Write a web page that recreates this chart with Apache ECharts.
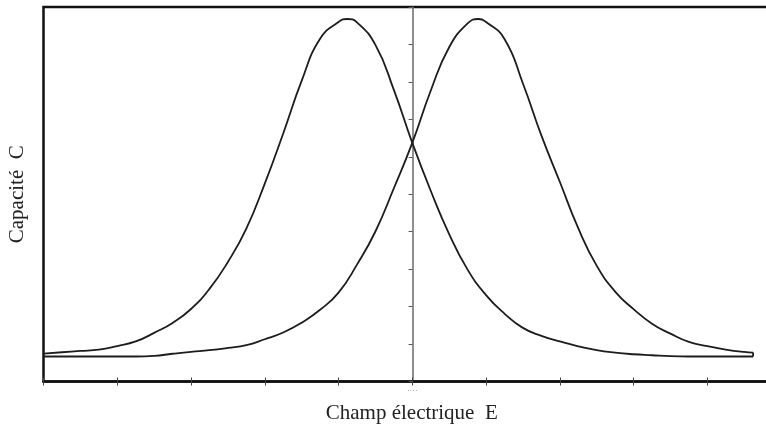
<!DOCTYPE html>
<html>
<head>
<meta charset="utf-8">
<script src="https://cdn.jsdelivr.net/npm/echarts@6/dist/echarts.min.js"></script>
<style>
  html, body { margin: 0; padding: 0; background: #fff; }
  #c { width: 766px; height: 428px; }
</style>
</head>
<body>
<div id="c"></div>
<script>
// Courbe montée : champ croissant (pic à gauche de l'origine)
const champMontee = [-5.00, -4.75, -4.50, -4.25, -4.00, -3.75, -3.50, -3.25, -3.00, -2.75,
  -2.50, -2.25, -2.00, -1.75, -1.50, -1.25, -1.00, -0.88, -0.75, -0.50,
  -0.25, 0.00, 0.25, 0.50, 0.75, 1.00, 1.25, 1.50, 1.75, 2.00,
  2.25, 2.50, 2.75, 3.00, 3.25, 3.50, 3.75, 4.00, 4.25, 4.50, 4.621];
const capaMontee = [0.747, 0.781, 0.816, 0.851, 0.947, 1.069, 1.299, 1.563, 1.936, 2.472,
  3.192, 4.083, 5.285, 6.624, 8.029, 9.150, 9.600, 9.680, 9.590, 8.987,
  7.787, 6.373, 5.093, 3.936, 2.987, 2.307, 1.813, 1.432, 1.219, 1.072,
  0.941, 0.837, 0.771, 0.728, 0.701, 0.675, 0.667, 0.667, 0.667, 0.667, 0.667];

// Courbe descente : champ décroissant (pic à droite de l'origine)
const champDescente = [-5.00, -4.75, -4.50, -4.25, -4.00, -3.75, -3.50, -3.25, -3.00, -2.75,
  -2.50, -2.25, -2.00, -1.75, -1.50, -1.25, -1.00, -0.75, -0.50, -0.25,
  0.00, 0.25, 0.50, 0.75, 0.894, 1.00, 1.25, 1.50, 1.75, 2.00,
  2.25, 2.50, 2.75, 3.00, 3.25, 3.50, 3.75, 4.00, 4.25, 4.50, 4.621];
const capaDescente = [0.667, 0.667, 0.667, 0.667, 0.667, 0.667, 0.685, 0.741, 0.792, 0.835,
  0.896, 0.971, 1.128, 1.307, 1.571, 1.915, 2.373, 3.120, 4.005, 5.160,
  6.373, 7.765, 8.925, 9.560, 9.680, 9.600, 9.147, 7.957, 6.573, 5.333,
  4.093, 3.093, 2.400, 1.933, 1.544, 1.277, 1.056, 0.944, 0.853, 0.789, 0.773];

// Fermeture de la boucle à l'extrémité droite
const champFermeture = [4.621, 4.621];
const capaFermeture = [0.667, 0.773];

const xMin = -5, xMax = 4.85, xPas = 1;
const yMin = 0, yMax = 10, yPas = 1;

const zip = (xs, ys) => xs.map((x, i) => [x, ys[i]]);

const serif = '"Liberation Serif", "DejaVu Serif", serif';
const ink = '#1c1c1c';

const chart = echarts.init(document.getElementById('c'), null, { renderer: 'canvas' });

chart.setOption({
  animation: false,
  backgroundColor: '#fff',
  grid: {
    left: 43.5, top: 7, right: -4, bottom: 46.5,
    containLabel: false,
    outerBoundsMode: 'none',
    show: true, borderColor: '#111', borderWidth: 2.5, backgroundColor: 'transparent'
  },
  xAxis: [
    {
      type: 'value', min: xMin, max: xMax, interval: xPas,
      axisLine: { onZero: true, lineStyle: { color: '#111', width: 2.5 } },
      axisTick: { length: 4, lineStyle: { color: '#444', width: 1 } },
      axisLabel: {
        formatter: v => (v === 0 ? '····' : ''),
        fontSize: 8, color: '#999', margin: 5
      },
      splitLine: { show: false },
      name: 'Champ électrique  E',
      nameLocation: 'middle',
      nameGap: 21,
      nameTextStyle: { fontFamily: serif, fontSize: 21, color: '#222', padding: [0, 0, 0, 10] }
    },
    {
      type: 'value', min: xMin, max: xMax, interval: xPas, position: 'bottom',
      axisLine: { show: false },
      axisTick: { inside: true, length: 4, lineStyle: { color: '#444', width: 1 } },
      axisLabel: { show: false },
      splitLine: { show: false }
    }
  ],
  yAxis: [
    {
      type: 'value', min: yMin, max: yMax, interval: yPas,
      axisLine: { onZero: true, lineStyle: { color: '#6a6a6a', width: 1.5 } },
      axisTick: { length: 3.5, lineStyle: { color: '#555', width: 1 } },
      axisLabel: { show: false },
      splitLine: { show: false }
    },
    {
      type: 'value', min: yMin, max: yMax, interval: yPas,
      axisLine: { show: false, onZero: true },
      axisTick: { inside: true, length: 3.5, lineStyle: { color: '#555', width: 1 } },
      axisLabel: { show: false },
      splitLine: { show: false }
    },
    {
      type: 'value', min: yMin, max: yMax, position: 'left',
      axisLine: { show: false, onZero: false },
      axisTick: { show: false },
      axisLabel: { show: false },
      splitLine: { show: false },
      name: 'Capacité  C',
      nameLocation: 'middle',
      nameGap: 16,
      nameTextStyle: { fontFamily: serif, fontSize: 21, color: '#222' }
    }
  ],
  series: [
    {
      name: 'montée', type: 'line', xAxisIndex: 0, yAxisIndex: 0,
      data: zip(champMontee, capaMontee),
      showSymbol: false, smooth: 0.5,
      lineStyle: { color: ink, width: 1.8 }
    },
    {
      name: 'descente', type: 'line', xAxisIndex: 0, yAxisIndex: 0,
      data: zip(champDescente, capaDescente),
      showSymbol: false, smooth: 0.5,
      lineStyle: { color: ink, width: 1.8 }
    },
    {
      name: 'fermeture', type: 'line', xAxisIndex: 0, yAxisIndex: 0,
      data: zip(champFermeture, capaFermeture),
      showSymbol: false,
      lineStyle: { color: ink, width: 1.8 }
    }
  ]
});
</script>
</body>
</html>
